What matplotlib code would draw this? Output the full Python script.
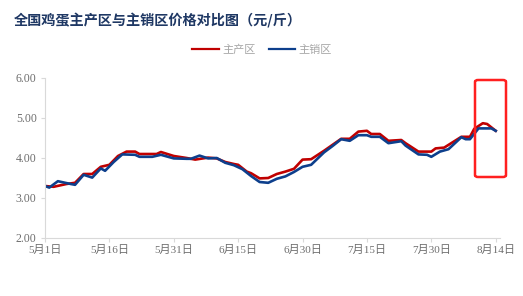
import matplotlib
matplotlib.use('Agg')
import matplotlib.pyplot as plt
from matplotlib.patches import FancyBboxPatch

plt.rcParams['font.family'] = ['Liberation Serif', 'Noto Sans CJK SC', 'DejaVu Sans']

# days counted from 5月1日
red_days = [0, 2, 5, 7, 9, 11, 13, 15, 17, 19, 21, 22, 26, 27, 30, 33, 35, 38, 40, 42,
            44, 45, 47, 48, 50, 52, 54, 56, 58, 60, 62, 65, 69, 71, 73, 75, 76, 78, 80, 83,
            84, 87, 90, 91, 93, 97, 99, 100, 102, 103, 105]
red_vals = [3.30, 3.28, 3.35, 3.38, 3.60, 3.60, 3.78, 3.83, 4.05, 4.16, 4.16, 4.10, 4.10, 4.15, 4.05, 4.00, 3.96, 4.01, 3.99, 3.90,
            3.85, 3.83, 3.66, 3.62, 3.49, 3.50, 3.60, 3.66, 3.73, 3.96, 3.97, 4.18, 4.48, 4.48, 4.66, 4.68, 4.60, 4.60, 4.43, 4.45,
            4.37, 4.16, 4.16, 4.24, 4.26, 4.53, 4.53, 4.73, 4.87, 4.85, 4.68]

blue_days = [0, 1, 3, 6, 7, 9, 11, 13, 14, 16, 18, 21, 22, 25, 27, 30, 33, 34, 36, 38,
             40, 42, 44, 46, 48, 50, 52, 54, 56, 58, 60, 62, 65, 67, 69, 71, 73, 75, 76, 78,
             80, 83, 84, 87, 89, 90, 92, 94, 97, 98, 99, 101, 104, 105]
blue_vals = [3.30, 3.26, 3.42, 3.35, 3.33, 3.58, 3.51, 3.74, 3.68, 3.90, 4.09, 4.08, 4.03, 4.03, 4.08, 3.99, 3.98, 3.98, 4.06, 3.99,
             4.00, 3.88, 3.82, 3.72, 3.55, 3.40, 3.38, 3.48, 3.54, 3.65, 3.78, 3.83, 4.14, 4.30, 4.47, 4.43, 4.57, 4.57, 4.53, 4.53,
             4.37, 4.42, 4.31, 4.09, 4.08, 4.03, 4.16, 4.22, 4.52, 4.47, 4.47, 4.74, 4.74, 4.68]

tick_days = [0, 15, 30, 45, 60, 75, 90, 105]
tick_labels = ['5月1日', '5月16日', '5月31日', '6月15日', '6月30日', '7月15日', '7月30日', '8月14日']
y_ticks = [2.0, 3.0, 4.0, 5.0, 6.0]

fig = plt.figure(figsize=(5.23, 2.96), dpi=100)
ax = fig.add_axes([45 / 523, 1 - 238 / 296, 455 / 523, 160 / 296])

ax.plot(red_days, red_vals, color='#C00000', lw=1.9, label='主产区')
ax.plot(blue_days, blue_vals, color='#0D3F8C', lw=1.9, label='主销区')

ax.set_xlim(0, 106)
ax.set_ylim(2, 6)
ax.set_xticks(tick_days)
ax.set_xticklabels(tick_labels)
ax.set_yticks(y_ticks)
ax.set_yticklabels(['%.2f' % v for v in y_ticks])

for s in ['top', 'right']:
    ax.spines[s].set_visible(False)
for s in ['left', 'bottom']:
    ax.spines[s].set_color('#D9D9D9')
ax.tick_params(axis='both', colors='#D9D9D9', labelcolor='#6E6E6E', length=3)
ax.tick_params(axis='y', labelsize=8.5, pad=3)
ax.tick_params(axis='x', labelsize=8, pad=2)

fig.text(14 / 523, 1 - 21 / 296, '全国鸡蛋主产区与主销区价格对比图（元/斤）',
         family=['Noto Sans CJK SC', 'DejaVu Sans'], fontweight='bold',
         fontsize=10.2, color='#1F3864', va='center', ha='left')

leg = fig.legend(loc='center', bbox_to_anchor=(262 / 523, 1 - 50 / 296), ncol=2, frameon=False,
                 labelcolor='#A6A6A6', handlelength=2.4, handletextpad=0.3,
                 columnspacing=1.2, prop={'family': ['Noto Sans CJK SC'], 'size': 8, 'weight': 'light'})
for line in leg.get_lines():
    line.set_linewidth(1.6)

# highlight box on the last days
box = FancyBboxPatch((475 / 523, 1 - 177 / 296), 31 / 523, 97 / 296,
                     boxstyle='round,pad=0,rounding_size=0.006',
                     transform=fig.transFigure, fill=False, edgecolor='#FF2020', lw=1.8)
fig.patches.append(box)

fig.savefig('out.png', dpi=100)
